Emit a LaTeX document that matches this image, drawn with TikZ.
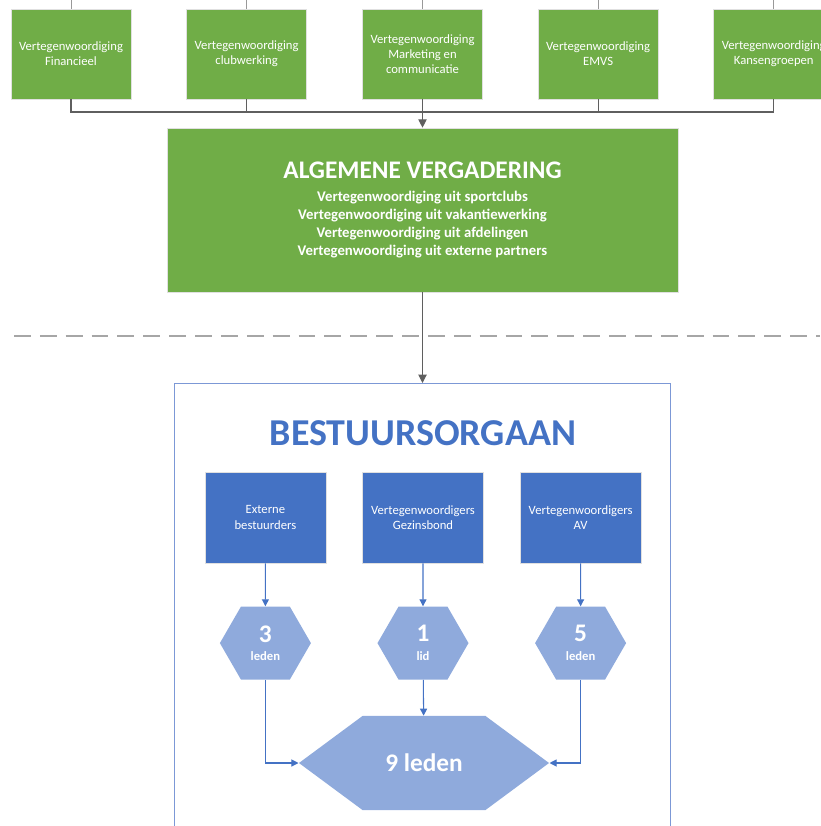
\documentclass[tikz,border=0pt]{standalone}
\usepackage{fontspec}
\setmainfont{Carlito}
\usetikzlibrary{positioning,shapes.symbols,arrows.meta}

\definecolor{avgreen}{HTML}{70AD47}
\definecolor{boardblue}{HTML}{4472C4}
\definecolor{hexblue}{HTML}{8FAADC}
\definecolor{frameblue}{HTML}{7C98D6}
\definecolor{linegray}{HTML}{5F5F5F}
\definecolor{dashgray}{HTML}{A6A6A6}

\tikzset{
  repbox/.style={rectangle,draw=black!12,fill=avgreen,text=white,
    minimum width=3cm,minimum height=2.25cm,align=center,inner sep=1pt,
    font=\fontsize{9}{10.7}\selectfont},
  memberbox/.style={rectangle,draw=black!12,fill=boardblue,text=white,
    minimum width=3.025cm,minimum height=2.275cm,align=center,
    font=\fontsize{9}{10.7}\selectfont},
  seats/.style={signal,signal to=east and west,signal pointer angle=120,
    fill=hexblue,text=white,minimum width=2.275cm,minimum height=1.825cm,
    inner sep=0pt,align=center,font=\bfseries\fontsize{9}{10.7}\selectfont},
  feed/.style={draw=linegray,line width=0.75pt,>={Triangle[length=6pt,width=6pt]}},
  link/.style={draw=boardblue,line width=0.75pt,>={Triangle[length=5pt,width=5pt]}},
  stub/.style={draw=black!40,line width=0.6pt},
}

\begin{document}
\begin{tikzpicture}[x=0.025cm,y=-0.025cm]
    \useasboundingbox (0,0) rectangle (820,826);
    \coordinate (top) at (0,0);

    % Algemene vergadering
    \node (av) [rectangle,draw=black!12,fill=avgreen,text=white,
        minimum width=12.775cm,minimum height=4.1cm,align=center,
        font=\bfseries\fontsize{10.5}{12.8}\selectfont] at (422.5,210)
        {{\fontsize{18}{21}\selectfont ALGEMENE VERGADERING}\\[3.5pt]
         Vertegenwoordiging uit sportclubs\\
         Vertegenwoordiging uit vakantiewerking\\
         Vertegenwoordiging uit afdelingen\\
         Vertegenwoordiging uit externe partners};

    % Vertegenwoordigingen
    \node (vfin) [repbox] at (71,54) {Vertegenwoordiging\\Financieel};
    \node (vclub) [repbox,right=1.375cm of vfin] {Vertegenwoordiging\\clubwerking};
    \node (vmark) [repbox] at (vfin -| av) {Vertegenwoordiging\\Marketing en\\communicatie};
    \node (vemvs) [repbox,right=1.375cm of vmark] {Vertegenwoordiging\\EMVS};
    \node (vkans) [repbox,right=1.375cm of vemvs] {Vertegenwoordiging\\Kansengroepen};
    \coordinate (hub) at (vmark.south |- 0,112);

    \foreach \rep in {vfin,vclub,vmark,vemvs,vkans}
        \draw[stub] (\rep.north) -- (\rep.north |- top);
    \foreach \rep in {vfin,vclub,vemvs,vkans}
        \draw[feed] (\rep.south) |- (hub);
    \draw[feed,->] (vmark.south) -- (av.north);

    % Scheiding
    \draw[dashgray,line width=1.2pt,dash pattern=on 12pt off 6.4pt] (14,336) -- (820,336);

    % Bestuursorgaan
    \node (board) [rectangle,draw=frameblue,line width=0.75pt,minimum width=12.4cm,
        minimum height=11.7cm,anchor=north] at (av.south |- 0,383) {};
    \draw[feed,->] (av.south) -- (board.north);
    \node (title) [text=boardblue,font=\bfseries\fontsize{27}{32}\selectfont]
        at (423,433) {BESTUURSORGAAN};

    \node (gezin) [memberbox] at (423,517.5) {Vertegenwoordigers\\Gezinsbond};
    \node (extern) [memberbox,left=0.9cm of gezin] {Externe\\bestuurders};
    \node (avrep) [memberbox,right=0.9cm of gezin] {Vertegenwoordigers\\AV};

    % Aantal leden
    \node (seats_ext) [seats,below=1.075cm of extern]
        {{\fontsize{18}{20}\selectfont 3}\\[2.5pt]leden};
    \node (seats_gez) [seats,below=1.075cm of gezin]
        {{\fontsize{18}{20}\selectfont 1}\\[2.5pt]lid};
    \node (seats_av) [seats,below=1.075cm of avrep]
        {{\fontsize{18}{20}\selectfont 5}\\[2.5pt]leden};
    \node (total) [seats,signal pointer angle=73,minimum width=6.25cm,
        minimum height=2.35cm] at (424,763) {\fontsize{18}{20}\selectfont 9 leden};

    \draw[link,->] (extern) -- (seats_ext);
    \draw[link,->] (gezin) -- (seats_gez);
    \draw[link,->] (avrep) -- (seats_av);
    \draw[link,->] (seats_ext) |- (total);
    \draw[link,->] (seats_gez) -- (total);
    \draw[link,->] (seats_av) |- (total);
\end{tikzpicture}
\end{document}
